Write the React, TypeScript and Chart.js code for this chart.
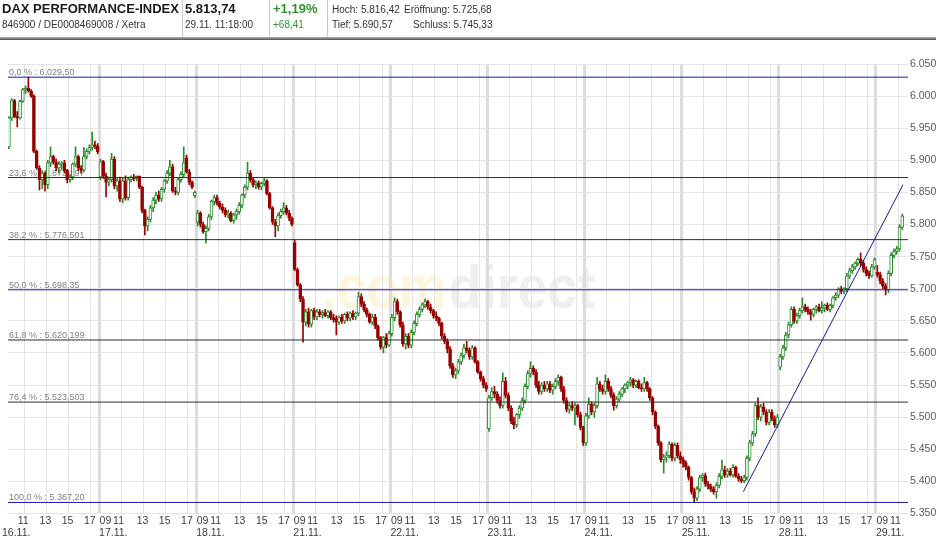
import React, { useEffect, useRef } from 'react';
import { Chart, registerables } from 'chart.js';

Chart.register(...registerables);

// ---------------- data ----------------
const dayLabels = ['16.11.', '17.11.', '18.11.', '21.11.', '22.11.', '23.11.', '24.11.', '25.11.', '28.11.', '29.11.'];
const hourTicks = [9, 11, 13, 15, 17];
const firstDayStartSlot = 2; // 16.11. starts at 09:30

// 15-minute candles [open, high, low, close]
const d1611 = [
  [5921, 5968, 5918, 5966], [5966, 5996, 5962, 5993], [5993, 5995, 5966, 5968], [5968, 5976, 5952, 5966],
  [5966, 5994, 5964, 5992], [5992, 6012, 5990, 6010], [6010, 6016, 6004, 6012], [6012, 6029.5, 6006, 6008],
  [6008, 6010, 5998, 6000], [6000, 6002, 5912, 5914], [5914, 5916, 5886, 5888], [5888, 5892, 5854, 5870],
  [5870, 5884, 5856, 5880], [5880, 5882, 5852, 5862], [5862, 5900, 5856, 5896], [5896, 5921, 5890, 5906],
  [5906, 5908, 5894, 5897], [5897, 5902, 5884, 5888], [5888, 5898, 5880, 5894], [5894, 5898, 5886, 5896],
  [5896, 5900, 5880, 5884], [5884, 5886, 5865, 5870], [5870, 5878, 5866, 5874], [5874, 5896, 5870, 5894],
  [5894, 5921, 5890, 5906], [5906, 5908, 5884, 5888], [5888, 5892, 5880, 5885], [5885, 5920, 5882, 5906],
  [5906, 5918, 5902, 5914], [5914, 5924, 5910, 5920], [5920, 5944, 5916, 5924], [5924, 5930, 5918, 5922],
  [5922, 5926, 5910, 5913],
];
const d1711 = [
  [5874, 5902, 5870, 5898], [5898, 5900, 5872, 5876], [5876, 5880, 5843, 5866], [5866, 5874, 5860, 5870],
  [5870, 5911, 5866, 5902], [5902, 5906, 5856, 5860], [5860, 5872, 5852, 5868], [5868, 5874, 5836, 5840],
  [5840, 5872, 5834, 5868], [5868, 5876, 5838, 5842], [5842, 5874, 5838, 5870], [5870, 5876, 5866, 5874],
  [5874, 5878, 5868, 5872], [5872, 5876, 5868, 5875], [5875, 5876, 5856, 5858], [5858, 5860, 5818, 5822],
  [5822, 5824, 5784, 5798], [5798, 5812, 5790, 5808], [5808, 5830, 5804, 5826], [5826, 5842, 5820, 5838],
  [5838, 5850, 5832, 5846], [5846, 5852, 5836, 5840], [5840, 5858, 5836, 5855], [5855, 5870, 5850, 5868],
  [5868, 5884, 5864, 5880], [5880, 5900, 5876, 5890], [5890, 5894, 5850, 5852], [5852, 5858, 5846, 5850],
  [5850, 5872, 5846, 5870], [5870, 5882, 5866, 5878], [5878, 5921, 5874, 5896], [5904, 5908, 5880, 5882],
  [5882, 5886, 5862, 5866], [5866, 5868, 5856, 5858], [5845, 5852, 5842, 5850],
];
const d1811 = [
  [5804, 5822, 5798, 5818], [5818, 5820, 5796, 5800], [5800, 5804, 5786, 5789], [5789, 5798, 5771, 5794],
  [5794, 5816, 5790, 5812], [5812, 5838, 5808, 5836], [5836, 5846, 5830, 5842], [5842, 5846, 5830, 5833],
  [5833, 5836, 5824, 5827], [5827, 5832, 5818, 5822], [5822, 5826, 5812, 5815], [5815, 5822, 5810, 5818],
  [5818, 5820, 5804, 5806], [5806, 5818, 5802, 5815], [5815, 5824, 5808, 5820], [5820, 5834, 5816, 5830],
  [5830, 5848, 5826, 5846], [5846, 5862, 5842, 5858], [5858, 5897, 5854, 5880], [5880, 5884, 5866, 5870],
  [5870, 5872, 5858, 5862], [5862, 5868, 5856, 5865], [5865, 5868, 5855, 5858], [5858, 5866, 5854, 5864],
  [5864, 5872, 5860, 5868], [5868, 5870, 5846, 5848], [5848, 5850, 5824, 5826], [5826, 5828, 5800, 5804],
  [5804, 5808, 5781, 5798], [5798, 5818, 5790, 5814], [5814, 5824, 5810, 5820], [5820, 5834, 5816, 5826],
  [5826, 5830, 5815, 5818], [5818, 5822, 5806, 5810], [5810, 5812, 5798, 5800],
];
const d2111 = [
  [5772, 5776, 5728, 5730], [5730, 5732, 5704, 5706], [5706, 5708, 5680, 5684], [5684, 5688, 5617, 5648],
  [5648, 5668, 5642, 5664], [5664, 5670, 5640, 5645], [5645, 5668, 5640, 5666], [5666, 5670, 5652, 5656],
  [5656, 5668, 5652, 5664], [5664, 5668, 5656, 5660], [5660, 5666, 5654, 5663], [5663, 5668, 5656, 5658],
  [5658, 5666, 5654, 5664], [5664, 5666, 5652, 5655], [5655, 5660, 5648, 5652], [5654, 5658, 5628, 5648],
  [5648, 5658, 5644, 5656], [5656, 5660, 5646, 5650], [5650, 5662, 5646, 5660], [5660, 5664, 5650, 5654],
  [5654, 5664, 5650, 5662], [5662, 5666, 5652, 5656], [5656, 5664, 5652, 5662], [5662, 5695, 5658, 5688],
  [5688, 5692, 5672, 5676], [5676, 5680, 5664, 5667], [5667, 5670, 5656, 5660], [5660, 5662, 5646, 5648],
  [5648, 5660, 5644, 5656], [5656, 5660, 5638, 5642], [5642, 5644, 5620, 5624], [5624, 5626, 5606, 5609],
  [5609, 5626, 5600, 5624], [5624, 5630, 5608, 5612], [5612, 5634, 5610, 5630],
];
const d2211 = [
  [5630, 5660, 5626, 5655], [5655, 5686, 5650, 5680], [5680, 5684, 5660, 5664], [5664, 5666, 5640, 5644],
  [5644, 5648, 5610, 5614], [5614, 5630, 5606, 5626], [5626, 5630, 5608, 5612], [5612, 5636, 5608, 5632],
  [5632, 5650, 5628, 5646], [5646, 5664, 5642, 5660], [5660, 5672, 5656, 5668], [5668, 5678, 5664, 5675],
  [5675, 5684, 5670, 5680], [5680, 5682, 5668, 5672], [5672, 5676, 5662, 5666], [5666, 5668, 5654, 5658],
  [5658, 5664, 5650, 5654], [5654, 5656, 5642, 5646], [5646, 5648, 5622, 5626], [5626, 5630, 5614, 5618],
  [5618, 5622, 5600, 5606], [5606, 5610, 5576, 5580], [5580, 5584, 5562, 5566], [5566, 5576, 5560, 5572],
  [5572, 5590, 5568, 5586], [5586, 5600, 5582, 5596], [5596, 5614, 5592, 5608], [5608, 5618, 5600, 5604],
  [5604, 5608, 5590, 5594], [5594, 5612, 5590, 5608], [5608, 5610, 5584, 5586], [5586, 5588, 5568, 5570],
  [5570, 5572, 5556, 5560], [5560, 5564, 5546, 5550], [5550, 5554, 5540, 5544],
];
const d2311 = [
  [5482, 5534, 5478, 5530], [5530, 5546, 5526, 5540], [5540, 5548, 5530, 5536], [5536, 5540, 5522, 5526],
  [5526, 5532, 5514, 5518], [5518, 5569, 5514, 5556], [5556, 5562, 5530, 5534], [5534, 5538, 5510, 5514],
  [5514, 5518, 5490, 5494], [5494, 5500, 5482, 5488], [5488, 5506, 5484, 5504], [5504, 5518, 5498, 5514],
  [5514, 5530, 5510, 5526], [5526, 5552, 5522, 5548], [5548, 5572, 5544, 5568], [5568, 5586, 5562, 5576],
  [5576, 5580, 5566, 5570], [5570, 5574, 5546, 5550], [5550, 5556, 5536, 5540], [5540, 5554, 5536, 5550],
  [5550, 5556, 5540, 5544], [5544, 5556, 5540, 5552], [5552, 5556, 5538, 5542], [5542, 5552, 5536, 5548],
  [5548, 5560, 5544, 5556], [5556, 5566, 5550, 5562], [5562, 5564, 5540, 5544], [5544, 5548, 5522, 5526],
  [5526, 5530, 5508, 5512], [5512, 5522, 5506, 5518], [5518, 5524, 5510, 5514], [5514, 5522, 5488, 5518],
  [5518, 5520, 5500, 5504], [5504, 5508, 5480, 5484], [5484, 5486, 5456, 5460],
];
const d2411 = [
  [5460, 5506, 5456, 5502], [5502, 5530, 5498, 5520], [5520, 5524, 5504, 5508], [5508, 5522, 5500, 5518],
  [5518, 5562, 5514, 5552], [5552, 5556, 5540, 5544], [5544, 5550, 5536, 5540], [5540, 5566, 5536, 5556],
  [5556, 5560, 5540, 5544], [5544, 5548, 5530, 5534], [5534, 5538, 5511, 5518], [5518, 5532, 5514, 5528],
  [5528, 5540, 5524, 5536], [5536, 5546, 5532, 5544], [5544, 5552, 5538, 5550], [5550, 5556, 5544, 5554],
  [5554, 5562, 5548, 5558], [5558, 5560, 5546, 5550], [5550, 5558, 5546, 5556], [5556, 5558, 5544, 5546],
  [5546, 5552, 5540, 5544], [5544, 5562, 5540, 5554], [5554, 5556, 5540, 5544], [5544, 5546, 5526, 5530],
  [5530, 5532, 5504, 5508], [5508, 5510, 5482, 5486], [5486, 5488, 5456, 5460], [5460, 5462, 5430, 5434],
  [5434, 5442, 5413, 5438], [5438, 5446, 5430, 5440], [5440, 5462, 5436, 5458], [5458, 5460, 5432, 5436],
  [5436, 5460, 5432, 5456], [5456, 5460, 5436, 5440], [5440, 5446, 5428, 5434],
];
const d2511 = [
  [5434, 5438, 5422, 5428], [5428, 5432, 5418, 5422], [5422, 5424, 5402, 5406], [5406, 5408, 5380, 5384],
  [5384, 5390, 5367.2, 5374], [5374, 5392, 5370, 5388], [5388, 5410, 5384, 5406], [5406, 5412, 5400, 5409],
  [5409, 5413, 5392, 5396], [5396, 5400, 5388, 5392], [5392, 5396, 5384, 5388], [5388, 5392, 5380, 5384],
  [5384, 5398, 5374, 5394], [5394, 5412, 5390, 5408], [5408, 5433, 5404, 5418], [5418, 5424, 5406, 5410],
  [5410, 5420, 5406, 5416], [5416, 5420, 5408, 5410], [5410, 5426, 5406, 5422], [5422, 5424, 5406, 5408],
  [5408, 5412, 5400, 5404], [5404, 5408, 5398, 5401], [5401, 5410, 5398, 5406], [5406, 5440, 5402, 5436],
  [5436, 5464, 5432, 5460], [5460, 5478, 5456, 5474], [5474, 5522, 5470, 5518], [5518, 5530, 5496, 5500],
  [5500, 5520, 5494, 5516], [5516, 5522, 5504, 5508], [5508, 5512, 5488, 5492], [5492, 5512, 5488, 5508],
  [5508, 5512, 5494, 5498], [5498, 5502, 5484, 5488], [5488, 5504, 5484, 5500],
];
const d2811 = [
  [5578, 5598, 5574, 5594], [5594, 5612, 5590, 5608], [5608, 5632, 5604, 5628], [5628, 5648, 5624, 5644],
  [5644, 5672, 5640, 5668], [5668, 5672, 5646, 5650], [5650, 5662, 5646, 5658], [5658, 5670, 5654, 5666],
  [5666, 5686, 5662, 5672], [5672, 5676, 5664, 5668], [5668, 5672, 5660, 5664], [5664, 5668, 5651, 5660],
  [5660, 5670, 5656, 5668], [5668, 5674, 5662, 5672], [5672, 5676, 5664, 5666], [5666, 5680, 5662, 5670],
  [5670, 5676, 5664, 5674], [5674, 5678, 5666, 5668], [5668, 5676, 5664, 5674], [5674, 5688, 5670, 5686],
  [5686, 5694, 5682, 5690], [5690, 5702, 5686, 5700], [5700, 5704, 5692, 5696], [5696, 5702, 5692, 5700],
  [5700, 5724, 5696, 5720], [5720, 5732, 5716, 5728], [5728, 5738, 5724, 5734], [5734, 5742, 5730, 5740],
  [5740, 5748, 5736, 5746], [5746, 5756, 5736, 5740], [5740, 5744, 5726, 5730], [5730, 5734, 5720, 5724],
  [5724, 5728, 5716, 5720], [5720, 5738, 5718, 5734], [5734, 5748, 5730, 5745.33],
];
const d2911 = [
  [5725.68, 5736, 5718, 5722], [5722, 5726, 5708, 5712], [5712, 5716, 5700, 5704], [5704, 5708, 5690.57, 5698],
  [5698, 5728, 5694, 5724], [5724, 5756, 5720, 5752], [5752, 5762, 5748, 5758], [5758, 5766, 5754, 5762],
  [5762, 5800, 5758, 5796], [5796, 5816.42, 5792, 5813.74],
];
const days = [d1611, d1711, d1811, d2111, d2211, d2311, d2411, d2511, d2811, d2911];

// Fibonacci retracement levels
const fibPercents = ['0,0', '23,6', '38,2', '50,0', '61,8', '76,4', '100,0'];
const fibValues = [6029.5, 5873.197, 5776.501, 5698.35, 5620.199, 5523.503, 5367.2];
const fibValueTexts = ['6.029,50', '5.873,197', '5.776,501', '5.698,35', '5.620,199', '5.523,503', '5.367,20'];

// trend line (day index, hour of day, price)
const trendDays = [7, 9];
const trendHours = [14.55, 11.44];
const trendPrices = [5384, 5862];

const yMin = 5350;
const yMax = 6050;
const yStep = 50;

// header texts
const instrumentName = 'DAX PERFORMANCE-INDEX';
const instrumentIds = '846900 / DE0008469008 / Xetra';
const lastPrice = '5.813,74';
const lastTime = '29.11. 11:18:00';
const changePct = '+1,19%';
const changeAbs = '+68,41';
const highText = 'Hoch: 5.816,42';
const openText = 'Eröffnung: 5.725,68';
const lowText = 'Tief: 5.690,57';
const closeText = 'Schluss: 5.745,33';

// ---------------- config ----------------
const DAY_HOURS = 8.75; // 09:00 - 17:45
const SLOT_HOURS = 0.25;
const X_MIN = 0.54;
const X_MAX = 81.64;
const FONT = '"Liberation Sans", Arial, Helvetica, sans-serif';
const GREEN = '#2b8a2b';
const RED = '#990000';
const BLUE = '#1818a8';
const DARK = '#2e2e2e';
const BLUE_LEVELS = new Set([0, 3, 6]);

Chart.defaults.font.family = FONT;

const toX = (day: number, hour: number) => day * DAY_HOURS + (hour - 9);

type Candle = { x: number; o: number; h: number; l: number; c: number };
const candles: Candle[] = [];
days.forEach((arr, d) => {
  const start = d === 0 ? firstDayStartSlot : 0;
  arr.forEach((k, i) => {
    candles.push({ x: d * DAY_HOURS + (start + i + 0.5) * SLOT_HOURS, o: k[0], h: k[1], l: k[2], c: k[3] });
  });
});

const fmtY = (v: number) => `${Math.floor(v / 1000)}.${String(Math.round(v % 1000)).padStart(3, '0')}`;

const isDayStart = (v: number) => Math.abs(v / DAY_HOURS - Math.round(v / DAY_HOURS)) < 1e-6;

const overlayPlugin = {
  id: 'overlay',
  beforeDraw(chart: any) {
    const { ctx, chartArea: a } = chart;
    const cx = (a.left + a.right) / 2;
    const base = (a.top + a.bottom) / 2 + 19;
    ctx.save();
    ctx.font = `bold 62px ${FONT}`;
    ctx.textAlign = 'left';
    ctx.textBaseline = 'alphabetic';
    ctx.fillStyle = '#fdf5dc';
    ctx.fillText('.com', cx - 136, base, 124);
    ctx.fillStyle = '#efefef';
    ctx.fillText('direct', cx - 9, base, 146);
    ctx.restore();
  },
  beforeDatasetsDraw(chart: any) {
    const { ctx, chartArea: a, scales } = chart;
    ctx.save();
    ctx.font = `9px ${FONT}`;
    ctx.fillStyle = '#808080';
    ctx.textAlign = 'left';
    ctx.textBaseline = 'alphabetic';
    fibValues.forEach((v, i) => {
      const y = scales.y.getPixelForValue(v);
      ctx.fillText(`${fibPercents[i]} % : ${fibValueTexts[i]}`, a.left + 1, y - 2);
    });
    ctx.restore();
  },
  afterDraw(chart: any) {
    const { ctx, chartArea: a, scales } = chart;
    const xs = scales.x;
    ctx.save();
    ctx.font = `10.5px ${FONT}`;
    ctx.fillStyle = '#3c3c3c';
    ctx.textBaseline = 'middle';
    const y1 = a.bottom + 8;
    const y2 = a.bottom + 20;
    dayLabels.forEach((lbl, d) => {
      const start = xs.getPixelForValue(d * DAY_HOURS);
      ctx.textAlign = 'left';
      ctx.fillText(lbl, Math.max(start, 1), y2);
      hourTicks.forEach((h) => {
        const v = toX(d, h);
        if (v < X_MIN || v > X_MAX) return;
        const px = xs.getPixelForValue(v);
        const txt = String(h).padStart(2, '0');
        if (h === 9) {
          ctx.textAlign = 'left';
          ctx.fillText(txt, px + 0.5, y1);
        } else if (h === 11 && d > 0) {
          ctx.textAlign = 'left';
          ctx.fillText(txt, start + 14, y1);
        } else {
          ctx.textAlign = 'center';
          ctx.fillText(txt, px - 1, y1);
        }
      });
    });
    ctx.restore();
  },
};

export default function App() {
  const ref = useRef<HTMLCanvasElement>(null);

  useEffect(() => {
    const canvas = ref.current;
    if (!canvas) return;

    const datasets: any[] = [];
    fibValues.forEach((v, i) => {
      datasets.push({
        type: 'line',
        data: [{ x: X_MIN, y: v }, { x: X_MAX, y: v }],
        borderColor: BLUE_LEVELS.has(i) ? BLUE : DARK,
        borderWidth: 1,
        pointRadius: 0,
        fill: false,
        order: 0,
      });
    });
    datasets.push({
      type: 'line',
      data: trendDays.map((d, i) => ({ x: toX(d, trendHours[i]), y: trendPrices[i] })),
      borderColor: BLUE,
      borderWidth: 1,
      pointRadius: 0,
      fill: false,
      order: 0,
    });
    datasets.push({
      type: 'bar',
      data: candles.map((k) => ({ x: k.x, y: [k.o, k.c] })),
      backgroundColor: candles.map((k) => (k.c >= k.o ? '#ffffff' : RED)),
      borderColor: candles.map((k) => (k.c >= k.o ? GREEN : RED)),
      borderWidth: 1,
      borderSkipped: false,
      barThickness: 3,
      grouped: false,
      order: 1,
    });
    datasets.push({
      type: 'bar',
      data: candles.map((k) => ({ x: k.x, y: [k.l, k.h] })),
      backgroundColor: candles.map((k) => (k.c >= k.o ? GREEN : RED)),
      borderWidth: 0,
      barThickness: 1,
      grouped: false,
      order: 2,
    });

    const chart = new Chart(canvas, {
      type: 'bar',
      data: { datasets },
      options: {
        animation: false,
        responsive: false,
        maintainAspectRatio: false,
        devicePixelRatio: 1,
        layout: { padding: { left: 8, top: 64, right: 0, bottom: 0 } },
        plugins: { legend: { display: false }, tooltip: { enabled: false } },
        scales: {
          x: {
            type: 'linear',
            min: X_MIN,
            max: X_MAX,
            offset: false,
            border: { display: false },
            ticks: { display: false },
            grid: {
              offset: false,
              drawTicks: false,
              color: (c: any) => (c.tick && isDayStart(c.tick.value) ? '#dcdcdc' : '#e4e4e4'),
              lineWidth: (c: any) => (c.tick && isDayStart(c.tick.value) ? 3 : 1),
            },
            afterBuildTicks: (scale: any) => {
              const t: any[] = [];
              dayLabels.forEach((_, d) => {
                hourTicks.forEach((h) => {
                  const v = toX(d, h);
                  if (v >= X_MIN && v <= X_MAX) t.push({ value: v });
                });
              });
              scale.ticks = t;
            },
            afterFit: (scale: any) => {
              scale.height = 25.5;
            },
          },
          y: {
            type: 'linear',
            position: 'right',
            min: yMin,
            max: yMax,
            border: { display: false },
            grid: { color: '#e4e4e4', drawTicks: false },
            ticks: {
              stepSize: yStep,
              padding: 2,
              color: '#5a5a5a',
              font: { size: 10.5, family: FONT },
              callback: (v: any) => fmtY(Number(v)),
            },
            afterFit: (scale: any) => {
              scale.width = 28;
            },
          },
        },
      } as any,
      plugins: [overlayPlugin],
    } as any);

    return () => chart.destroy();
  }, []);

  const abs = (left: number, top: number, size: number, extra: any = {}) => ({
    position: 'absolute' as const,
    left,
    top,
    fontSize: size,
    lineHeight: `${size}px`,
    whiteSpace: 'nowrap' as const,
    color: '#333',
    ...extra,
  });

  return (
    <div
      style={{
        position: 'fixed',
        left: 0,
        top: 0,
        width: 936,
        height: 539,
        background: '#ffffff',
        overflow: 'hidden',
        fontFamily: FONT,
      }}
    >
      <canvas
        ref={ref}
        width={936}
        height={539}
        style={{ position: 'absolute', left: 0, top: 0, width: 936, height: 539 }}
      />
      <div style={abs(2, 2, 13, { fontWeight: 'bold', color: '#1a1a1a' })}>{instrumentName}</div>
      <div style={abs(2, 20, 10)}>{instrumentIds}</div>
      <div style={{ position: 'absolute', left: 182, top: 0, width: 1, height: 37, background: '#c8c8c8' }} />
      <div style={abs(185, 2, 13, { fontWeight: 'bold', color: '#1a1a1a' })}>{lastPrice}</div>
      <div style={abs(185, 20, 10)}>{lastTime}</div>
      <div style={{ position: 'absolute', left: 269, top: 0, width: 1, height: 37, background: '#c8c8c8' }} />
      <div style={abs(273, 2, 13, { fontWeight: 'bold', color: '#2f952f' })}>{changePct}</div>
      <div style={abs(273, 20, 10, { color: '#2f952f' })}>{changeAbs}</div>
      <div style={{ position: 'absolute', left: 327, top: 0, width: 1, height: 37, background: '#c8c8c8' }} />
      <div style={abs(332, 5, 10)}>{highText}</div>
      <div style={abs(404, 5, 10)}>{openText}</div>
      <div style={abs(332, 20, 10)}>{lowText}</div>
      <div style={abs(413, 20, 10)}>{closeText}</div>
      <div
        style={{
          position: 'absolute',
          left: 0,
          top: 37,
          width: 936,
          height: 3,
          background: 'linear-gradient(#b4b4b4, #505050)',
        }}
      />
    </div>
  );
}
